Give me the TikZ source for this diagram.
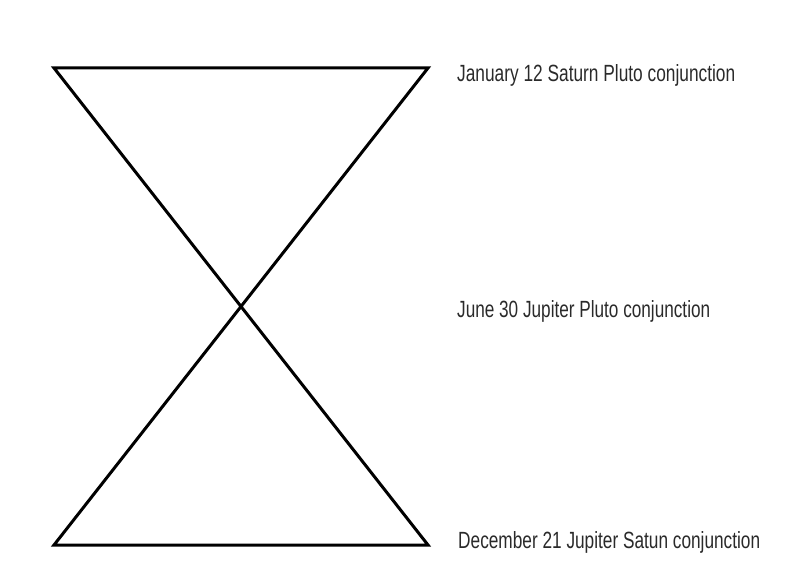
\documentclass[tikz,border=0pt]{standalone}
\usepackage{fontspec}
\setmainfont{Liberation Sans}
\usepackage{graphicx}
\definecolor{txt}{HTML}{2A2A2A}
\tikzset{
  shape line/.style={line width=3pt, black, line join=miter},
  label text/.style={anchor=base west, inner sep=0pt, text=txt, font=\fontsize{23}{23}\selectfont}
}
\begin{document}
\begin{tikzpicture}[x=1pt,y=-1pt]
\useasboundingbox (0,0) rectangle (797,588);
\coordinate (tl) at (54,68);
\coordinate (tr) at (428,68);
\coordinate (bl) at (54,545);
\coordinate (br) at (428,545);
\draw[shape line] (tl) -- (tr) -- (bl) -- (br) -- cycle;
\node[label text] (t1) at (457,82) {\resizebox{278pt}{17pt}{January 12 Saturn Pluto conjunction}};
\node[label text] (t2) at (457,317) {\resizebox{253pt}{17pt}{June 30 Jupiter Pluto conjunction}};
\node[label text] (t3) at (458,548) {\resizebox{302pt}{17pt}{December 21 Jupiter Satun conjunction}};
\end{tikzpicture}
\end{document}
